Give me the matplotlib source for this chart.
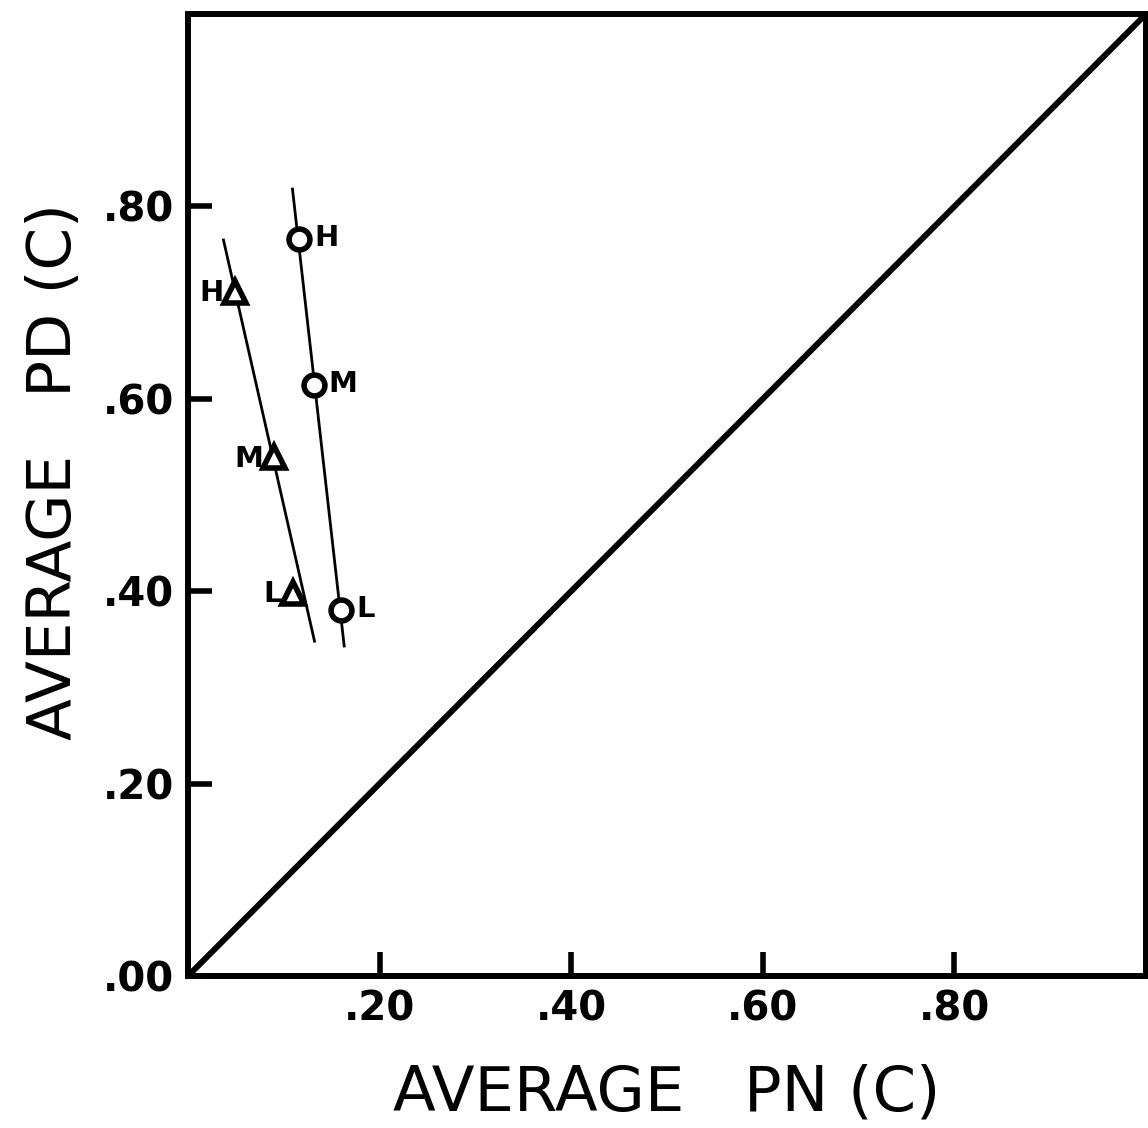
import numpy as np
import matplotlib.pyplot as plt

# circle series (H, M, L)
circ_x = [0.116, 0.131, 0.160]
circ_y = [0.766, 0.614, 0.380]
circ_lab = ['H', 'M', 'L']
circ_line_x = [0.109, 0.163]
circ_line_y = [0.818, 0.343]

# triangle series (H, M, L)
tri_x = [0.049, 0.090, 0.110]
tri_y = [0.711, 0.539, 0.398]
tri_lab = ['H', 'M', 'L']
tri_line_x = [0.037, 0.132]
tri_line_y = [0.765, 0.348]

ticks = [0.0, 0.2, 0.4, 0.6, 0.8]
xtick_labels = ['', '.20', '.40', '.60', '.80']
ytick_labels = ['.00', '.20', '.40', '.60', '.80']


def main():
    plt.rcParams['font.family'] = ['DejaVu Sans']
    plt.rcParams['font.weight'] = 'bold'
    fig = plt.figure(figsize=(11.48, 11.28), dpi=100)
    ax = fig.add_axes([0.1638, 0.1348, 0.8345, 0.8528])

    ax.plot([0, 1], [0, 1], color='black', lw=4.3, solid_capstyle='round')
    ax.plot(circ_line_x, circ_line_y, color='black', lw=2.0)
    ax.plot(tri_line_x, tri_line_y, color='black', lw=2.0)

    ax.plot(circ_x, circ_y, 'o', ms=15, mfc='white', mec='black', mew=4)
    ax.plot(tri_x, tri_y, '^', ms=16, mfc='white', mec='black', mew=4)

    for x, y, t in zip(circ_x, circ_y, circ_lab):
        ax.annotate(t, (x, y), xytext=(11, 1), textcoords='offset points',
                    ha='left', va='center', fontsize=21, fontweight='bold')
    for x, y, t in zip(tri_x, tri_y, tri_lab):
        ax.annotate(t, (x, y), xytext=(-8, -1), textcoords='offset points',
                    ha='right', va='center', fontsize=21, fontweight='bold')

    ax.set_xlim(0, 1.0)
    ax.set_ylim(0, 1.0)
    ax.set_xticks(ticks)
    ax.set_xticklabels(xtick_labels)
    ax.set_yticks(ticks)
    ax.set_yticklabels(ytick_labels)
    ax.tick_params(direction='in', length=17, width=4, labelsize=29, pad=10)
    for lab in ax.get_xticklabels() + ax.get_yticklabels():
        lab.set_fontweight('bold')
    for s in ax.spines.values():
        s.set_linewidth(4.3)

    ax.set_xlabel('AVERAGE   PN (C)', fontsize=45, fontweight='normal')
    ax.set_ylabel('AVERAGE   PD (C)', fontsize=44, fontweight='normal')
    ax.xaxis.set_label_coords(0.5, -0.122, transform=ax.transAxes)
    ax.yaxis.set_label_coords(-0.139, 0.524, transform=ax.transAxes)
    ax.xaxis.label.set_va('center')
    ax.yaxis.label.set_va('center')

    fig.savefig('out.png', dpi=100)


if __name__ == '__main__':
    main()
